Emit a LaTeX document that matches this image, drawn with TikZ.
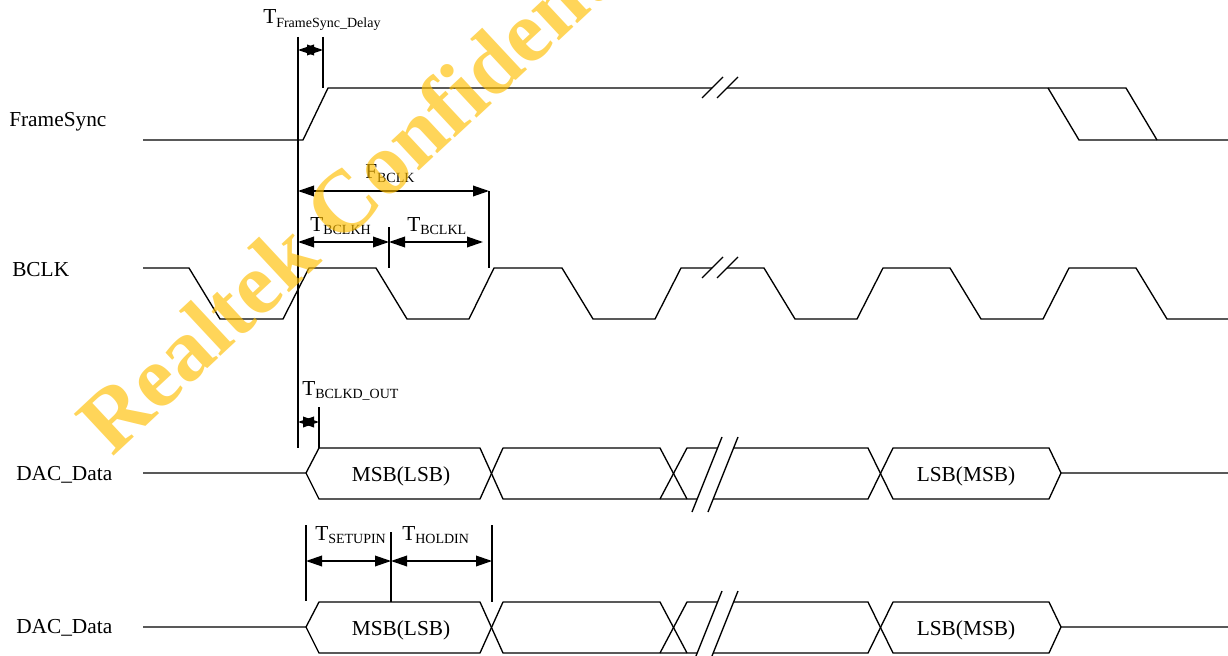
\documentclass[tikz,border=0pt]{standalone}
\usepackage{fontspec}
\setmainfont{Liberation Serif}
\usetikzlibrary{arrows.meta}
\definecolor{wmyellow}{RGB}{255,190,0}
\newcommand{\sbs}[1]{\raisebox{-2.5pt}{\fontsize{10.5}{12}\selectfont #1}}

\begin{document}
\begin{tikzpicture}[x=0.75pt,y=0.75pt,yscale=-1,
        every node/.style={inner sep=0pt,font=\fontsize{16}{19}\selectfont},
        sig/.style={line width=1pt,line join=round},
        marker/.style={line width=1pt},
        dimarr/.style={line width=1pt,{Triangle[length=12pt,width=8pt]}-{Triangle[length=12pt,width=8pt]}},
        lbl/.style={anchor=base west}]
        \useasboundingbox (0,0) rectangle (1228,656);

        % Signal names
        \draw (9,127) node (nfs) [lbl]{FrameSync};
        \draw (12,276) node (nbclk) [lbl]{BCLK};
        \draw (16,480) node (ndac) [lbl]{DAC\_Data};
        \draw (16,633) node (ndacb) [lbl]{DAC\_Data};

        % FrameSync
        \draw [sig] (143,140) -- (303,140) -- (328,88) -- (712,88) ;
        \draw [sig] (727,88) -- (1126,88) -- (1157,140) ;
        \draw [sig] (1048,88) -- (1079,140) -- (1228,140) ;
        \draw [sig] (702,98) -- (723,77) (717,98) -- (738,77) ;

        % BCLK
        \draw [sig] (143,268) -- (189,268) -- (220,319) -- (283,319) -- (309,268) -- (376,268) -- (407,319) -- (469,319) -- (494,268) -- (562,268) -- (593,319) -- (655,319) -- (681,268) -- (712,268) ;
        \draw [sig] (727,268) -- (764,268) -- (795,319) -- (857,319) -- (883,268) -- (950,268) -- (981,319) -- (1043,319) -- (1069,268) -- (1136,268) -- (1167,319) -- (1228,319) ;
        \draw [sig] (702,278) -- (723,257) (717,278) -- (738,257) ;

        % DAC_Data, both rows
        \foreach \dy/\a/\b in {0/MSB(LSB)/LSB(MSB), 154/MSB(LSB)/LSB(MSB)} {
            \draw [sig] (143,473+\dy) -- (306,473+\dy) -- (319,448+\dy) -- (480,448+\dy) -- (503,499+\dy) -- (697,499+\dy) ;
            \draw [sig] (306,473+\dy) -- (319,499+\dy) -- (480,499+\dy) -- (503,448+\dy) -- (660,448+\dy) -- (687,499+\dy) ;
            \draw [sig] (660,499+\dy) -- (687,448+\dy) -- (717,448+\dy) ;
            \draw [sig] (734,448+\dy) -- (868,448+\dy) -- (893,499+\dy) -- (1049,499+\dy) -- (1061,473+\dy) -- (1228,473+\dy) ;
            \draw [sig] (713,499+\dy) -- (868,499+\dy) -- (893,448+\dy) -- (1049,448+\dy) -- (1061,473+\dy) ;
            \draw [sig] (692,512+\dy) -- (722,437+\dy) (708,512+\dy) -- (738,437+\dy) ;
            \draw (401,481+\dy) node [anchor=base]{\a};
            \draw (966,481+\dy) node [anchor=base]{\b};
        }

        % Reference lines
        \coordinate (ref) at (298,37);
        \coordinate (fsd) at (323,37);
        \coordinate (per) at (489,191);
        \coordinate (hl) at (389,227);
        \coordinate (dout) at (319,407);
        \coordinate (su) at (306,525);
        \coordinate (mid) at (391,532);
        \coordinate (ho) at (492,525);
        \draw [marker] (ref) -- (298,448) ;
        \draw [marker] (fsd) -- (323,88) ;
        \draw [marker] (per) -- (489,268) ;
        \draw [marker] (hl) -- (389,268) ;
        \draw [marker] (dout) -- (319,448) ;
        \draw [marker] (su) -- (306,601) ;
        \draw [marker] (mid) -- (391,602) ;
        \draw [marker] (ho) -- (492,602) ;

        % Timing arrows
        \draw [dimarr] (ref |- 0,50) -- (fsd |- 0,50) ;
        \draw [dimarr] (ref |- per) -- (per) ;
        \draw [dimarr] (ref |- 0,242) -- (hl |- 0,242) ;
        \draw [dimarr] (hl |- 0,242) -- (483,242) ;
        \draw [dimarr] (ref |- 0,422) -- (dout |- 0,422) ;
        \draw [dimarr] (su |- 0,561) -- (mid |- 0,561) ;
        \draw [dimarr] (mid |- 0,561) -- (ho |- 0,561) ;

        % Timing labels
        \draw (263,24) node (tfsd) [lbl]{T\sbs{FrameSync\_Delay}};
        \draw (365,179) node (fbclk) [lbl]{F\sbs{BCLK}};
        \draw (310,231) node (tbh) [lbl]{T\sbs{BCLKH}};
        \draw (407,231) node (tbl) [lbl]{T\sbs{BCLKL}};
        \draw (302,395) node (tbd) [lbl]{T\sbs{BCLKD\_OUT}};
        \draw (315,540) node (tsu) [lbl]{T\sbs{SETUPIN}};
        \draw (402,540) node (tho) [lbl]{T\sbs{HOLDIN}};

        % Watermark
        \draw (112,458) node (wm) [anchor=base west,rotate=43,text=wmyellow,text opacity=0.65,font=\fontsize{66}{76}\selectfont\bfseries]{Realtek Confidential};
    \end{tikzpicture}
\end{document}
